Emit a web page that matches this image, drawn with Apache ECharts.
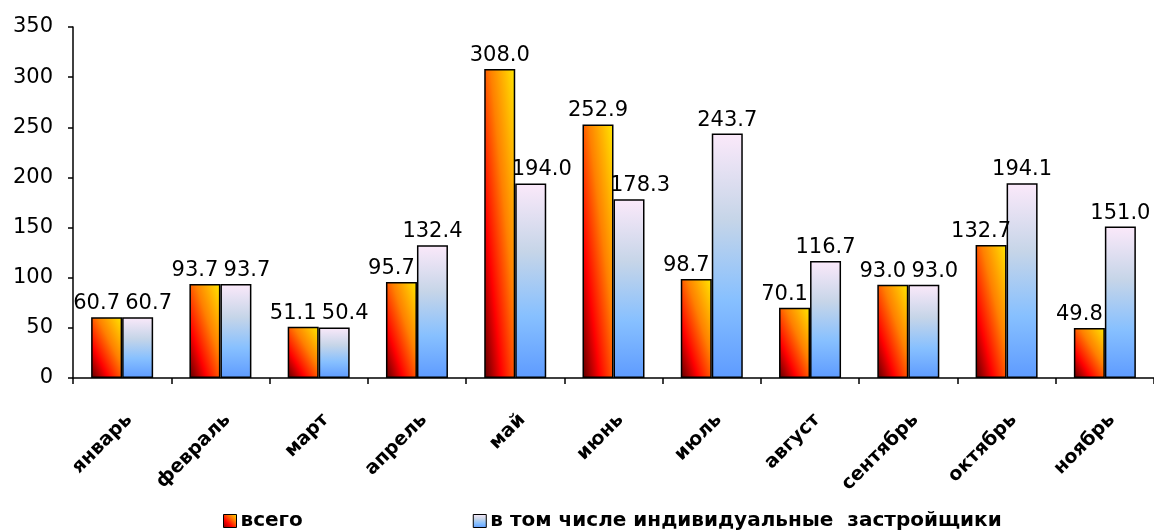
<!DOCTYPE html>
<html><head><meta charset="utf-8">
<script src="https://cdn.jsdelivr.net/npm/echarts@6/dist/echarts.min.js"></script>
<style>html,body{margin:0;padding:0;background:#fff}#c{width:1154px;height:531px}</style>
</head><body><div id="c"></div>
<script>
const months = ['январь','февраль','март','апрель','май','июнь','июль','август','сентябрь','октябрь','ноябрь'];
const total = [60.7, 93.7, 51.1, 95.7, 308.0, 252.9, 98.7, 70.1, 93.0, 132.7, 49.8];
const individual = [60.7, 93.7, 50.4, 132.4, 194.0, 178.3, 243.7, 116.7, 93.0, 194.1, 151.0];
const seriesNames = ['всего', 'в том числе индивидуальные  застройщики'];
const yTicks = {min: 0, max: 350, interval: 50};

const BAR_W = 31;
const PX_PER_UNIT = 351 / 350;

// diagonal gradient whose isolines follow the bar's anti-diagonal
function orangeFor(v) {
  const h = Math.max(v * PX_PER_UNIT, 1), w = BAR_W;
  const s = h * h + w * w;
  return {type: 'linear', x: 0, y: 1, x2: 2 * h * h / s, y2: 1 - 2 * w * w / s, colorStops: [
    {offset: 0, color: '#5a0000'},
    {offset: 0.28, color: '#ff0000'},
    {offset: 0.6, color: '#ff8000'},
    {offset: 1, color: '#ffe800'}
  ]};
}
const blueGrad = {type: 'linear', x: 0, y: 0, x2: 0, y2: 1, colorStops: [
  {offset: 0, color: '#fbe9fa'},
  {offset: 0.35, color: '#c6d5e8'},
  {offset: 0.68, color: '#87c0ff'},
  {offset: 1, color: '#5e9bff'}
]};
const legendOrange = {type: 'linear', x: 0, y: 1, x2: 1, y2: 0, colorStops: [
  {offset: 0, color: '#7a0000'}, {offset: 0.35, color: '#ff0000'}, {offset: 0.7, color: '#ff8000'}, {offset: 1, color: '#ffe800'}]};

const font = 'DejaVu Sans, Verdana, sans-serif';
const baseLabel = {show: true, position: 'top', distance: 3, color: '#000', fontSize: 21, fontFamily: font,
  formatter: p => Number(p.value).toFixed(1)};

const totalData = total.map((v, i) => ({
  value: v,
  itemStyle: {color: orangeFor(v)},
  label: {offset: [v < individual[i] + 10 ? -10 : 0, 0]}
}));
const indData = individual.map((v, i) => ({
  value: v,
  label: {offset: [v < total[i] + 10 ? 11 : 0, 0]}
}));

const chart = echarts.init(document.getElementById('c'), null, {renderer: 'canvas'});
chart.setOption({
  animation: false,
  grid: {left: 73, right: -11, top: 27, bottom: 153, containLabel: false},
  legend: {
    bottom: -5, left: 218, itemGap: 170,
    itemWidth: 13, itemHeight: 13, icon: 'rect',
    textStyle: {fontFamily: font, fontSize: 20, fontWeight: 'bold', color: '#000', padding: [0, 0, 0, -1]},
    data: [
      {name: seriesNames[0], itemStyle: {color: legendOrange, borderColor: '#000', borderWidth: 1}},
      {name: seriesNames[1], itemStyle: {color: blueGrad, borderColor: '#000', borderWidth: 1}}
    ]
  },
  xAxis: {
    type: 'category', data: months,
    axisLine: {lineStyle: {color: '#000', width: 1.5}},
    axisTick: {show: true, length: 6, lineStyle: {color: '#000', width: 1.5}},
    axisLabel: {rotate: 45, fontFamily: font, fontSize: 19, fontWeight: 'bold', color: '#000', margin: 46,
      padding: [0, -10, 0, 0], interval: 0}
  },
  yAxis: {
    type: 'value', min: yTicks.min, max: yTicks.max, interval: yTicks.interval,
    axisLine: {show: true, lineStyle: {color: '#000', width: 1.5}},
    axisTick: {show: true, length: 5, lineStyle: {color: '#000', width: 1.5}},
    splitLine: {show: false},
    axisLabel: {fontFamily: font, fontSize: 21, color: '#000', margin: 20}
  },
  series: [
    {name: seriesNames[0], type: 'bar', data: totalData, barWidth: BAR_W, barGap: '0%',
      itemStyle: {borderColor: '#000', borderWidth: 1.5}, label: baseLabel},
    {name: seriesNames[1], type: 'bar', data: indData, barWidth: BAR_W, barGap: '0%',
      itemStyle: {color: blueGrad, borderColor: '#000', borderWidth: 1.5}, label: baseLabel}
  ]
});
</script></body></html>
